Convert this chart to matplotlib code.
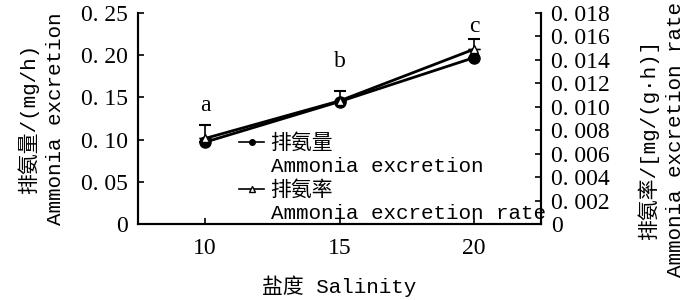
import numpy as np
import matplotlib.pyplot as plt
from matplotlib.lines import Line2D

# --- data ---
salinity = [10, 15, 20]
excretion = [0.097, 0.145, 0.197]          # mg/h, left axis
excretion_err = [0.020, 0.013, 0.022]
rate = [0.0073, 0.0105, 0.0149]            # mg/(g.h), right axis
rate_err = [0.0, 0.0, 0.0]
letters = ['a', 'b', 'c']
letter_y = [0.128, 0.18, 0.222]

left_ticks = [0, 0.05, 0.10, 0.15, 0.20, 0.25]
left_labels = ['0', '0. 05', '0. 10', '0. 15', '0. 20', '0. 25']
right_ticks = [0, 0.002, 0.004, 0.006, 0.008, 0.010, 0.012, 0.014, 0.016, 0.018]
right_labels = ['0', '0. 002', '0. 004', '0. 006', '0. 008', '0. 010',
                '0. 012', '0. 014', '0. 016', '0. 018']
x_ticks = [10, 15, 20]

MIX = ['Liberation Mono', 'Noto Sans CJK SC']
NUM = 'Liberation Serif'

fig = plt.figure(figsize=(7, 3), dpi=100)
ax = fig.add_axes([0.197, 0.253, 0.576, 0.704])
ax2 = ax.twinx()

# --- series ---
ax.errorbar(salinity, excretion, yerr=[[0] * 3, excretion_err], color='black',
            lw=2, marker='o', ms=8, capsize=4, elinewidth=1.2, capthick=1.5, zorder=3)
ax2.errorbar(salinity, rate, yerr=[[0] * 3, rate_err], color='black',
             lw=2, marker='^', ms=6, mfc='white', mec='black', capsize=4, zorder=3)

for x, y, t in zip(salinity, letter_y, letters):
    ax.text(x, y, t, ha='center', va='bottom', fontsize=17, family=NUM)

# --- axes ---
ax.set_xlim(7.5, 22.5)
ax.set_ylim(0, 0.25)
ax2.set_ylim(0, 0.018)
ax.set_xticks(x_ticks)
ax.set_xticklabels([str(v) for v in x_ticks], family=NUM, fontsize=17)
ax.set_yticks(left_ticks)
ax.set_yticklabels(left_labels, family=NUM, fontsize=17)
ax2.set_yticks(right_ticks)
ax2.set_yticklabels(right_labels, family=NUM, fontsize=17)
for a in (ax, ax2):
    a.tick_params(direction='in', length=4, width=1.2, pad=7)
    for s in a.spines.values():
        s.set_linewidth(1.5)
ax.tick_params(axis='x', pad=10)
ax.spines['top'].set_visible(False)
ax2.spines['top'].set_visible(False)

ax.set_xlabel('盐度 Salinity', family=MIX, fontsize=15, labelpad=12)
ax.set_ylabel('排氨量/(mg/h)\nAmmonia excretion', family=MIX, fontsize=15,
              linespacing=1.5)
ax.yaxis.set_label_coords(-0.18, 0.5)
ax2.set_ylabel('排氨率/[mg/(g·h)]\nAmmonia excretion rate', family=MIX, fontsize=15,
               rotation=90, linespacing=1.5)
ax2.yaxis.set_label_coords(1.238, 0.4)

# --- legend ---
h1 = Line2D([], [], color='black', lw=1.2, marker='o', ms=4)
h2 = Line2D([], [], color='black', lw=1.2, marker='^', ms=4, mfc='white')
blank = Line2D([], [], color='none')
leg = ax.legend([h1, blank, h2, blank],
                ['排氨量', 'Ammonia excretion', '排氨率', 'Ammonia excretion rate'],
                loc='upper left', bbox_to_anchor=(0.231, 0.47),
                frameon=False, prop={'family': MIX, 'size': 15},
                handlelength=1.2, handletextpad=0.3, labelspacing=0.2,
                borderaxespad=0)
leg.set_zorder(5)

fig.savefig('out.png', dpi=100)
